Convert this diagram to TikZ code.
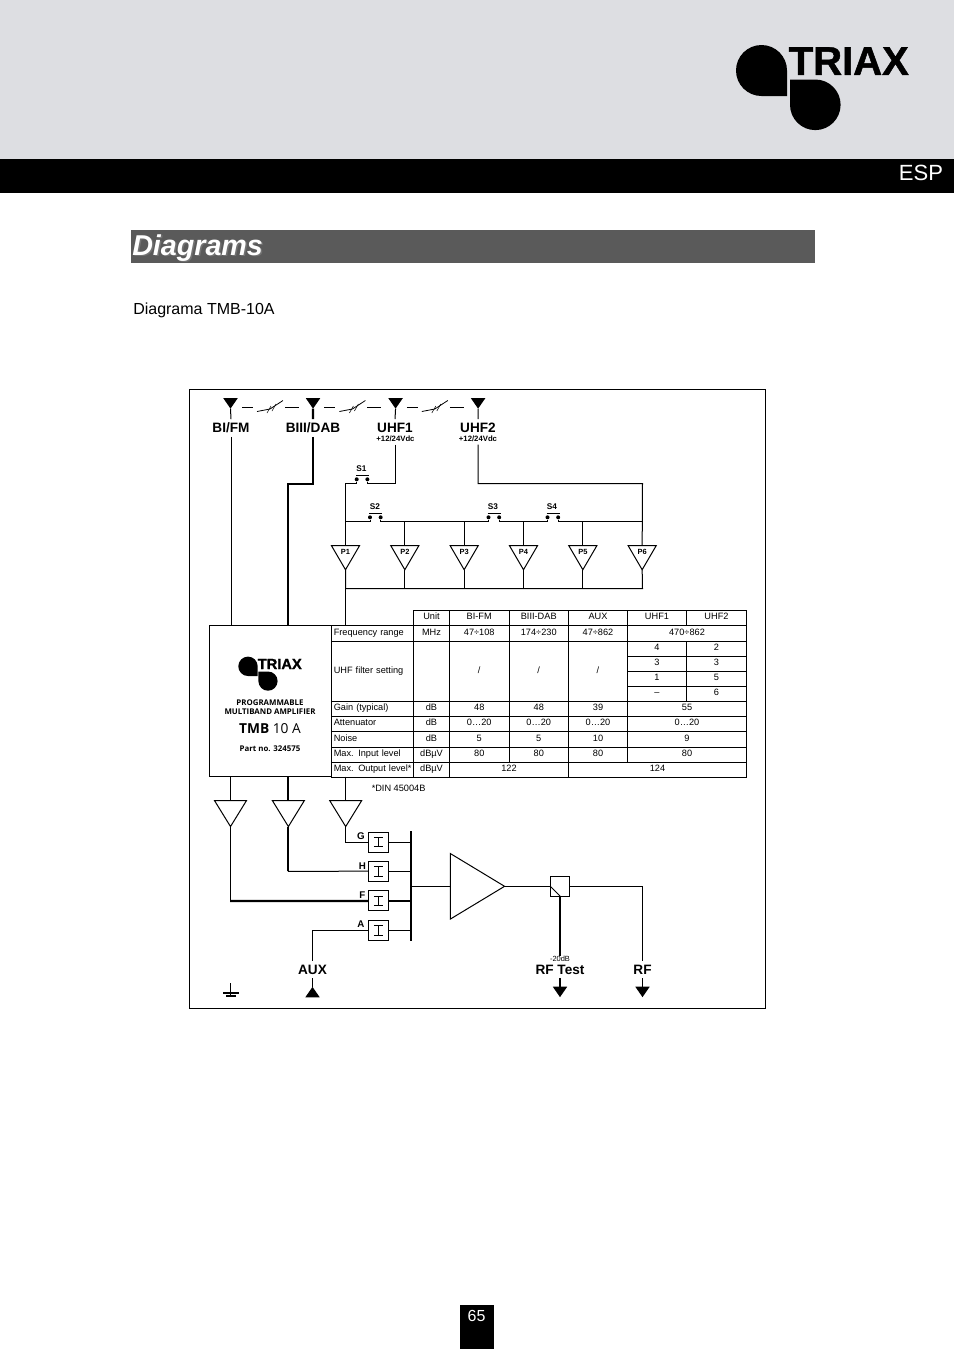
\documentclass[tikz,border=0pt]{standalone}
\usepackage{fontspec}
\setmainfont{Liberation Sans}
\newfontfamily\logofont[FakeBold=1.2]{Liberation Sans Bold}
\newfontfamily\platefont{Open Sans}
\usetikzlibrary{shapes.geometric, arrows, positioning}
\definecolor{topgrey}{RGB}{221,222,226}
\definecolor{titlegrey}{RGB}{90,90,90}
\tikzstyle{band} = [rectangle, draw=none, inner sep=0pt, outer sep=0pt, anchor=north west]
\tikzstyle{wire} = [line width=0.75pt]
\tikzstyle{heavy} = [line width=1.6pt]
\tikzstyle{big} = [inner xsep=0pt, inner ysep=3pt, outer sep=0pt, text height=7.4pt, text depth=0pt, font=\bfseries\fontsize{10.2}{11}\selectfont]
\tikzstyle{supply} = [inner sep=2pt, outer sep=0pt, font=\bfseries\fontsize{5.8}{6}\selectfont]
\tikzstyle{tiny} = [inner sep=0pt, font=\bfseries\fontsize{6.2}{7}\selectfont]
\tikzstyle{letter} = [inner sep=0pt, font=\bfseries\fontsize{7.3}{8}\selectfont]
\tikzstyle{ant} = [isosceles triangle, isosceles triangle stretches, minimum height=7.8pt, minimum width=10.8pt, inner sep=0pt, outer sep=0pt, fill=black, draw=none]
\tikzstyle{pamp} = [isosceles triangle, shape border rotate=-90, isosceles triangle stretches, minimum height=18pt, minimum width=21pt, inner sep=0pt, outer sep=0pt, draw=black, line width=0.75pt, font=\bfseries\fontsize{5.6}{6}\selectfont]
\tikzstyle{oamp} = [isosceles triangle, shape border rotate=-90, isosceles triangle stretches, minimum height=19.5pt, minimum width=24pt, inner sep=0pt, outer sep=0pt, draw=black, line width=0.75pt]
\tikzstyle{filt} = [rectangle, minimum width=15.2pt, minimum height=15pt, inner sep=0pt, outer sep=0pt, draw=black, line width=0.75pt]
\tikzstyle{dot} = [circle, fill=black, minimum size=3pt, inner sep=0pt]
\tikzstyle{cell} = [rectangle, draw=black, line width=0.6pt, inner sep=0pt, outer sep=0pt, anchor=north west, text height=5pt, text depth=2.2pt, font=\fontsize{6.9}{7}\selectfont, align=center]
\tikzstyle{rowname} = [cell, align=left, text width=61.5pt]

\begin{document}
\begin{tikzpicture}[x=0.75pt, y=-0.75pt]
  \useasboundingbox (0,0) rectangle (954,1350);

  \node (TOP) [band, fill=topgrey, minimum width=715.5pt, minimum height=119.25pt] at (0,0) {};
  \node (BAR) [band, fill=black, minimum width=715.5pt, minimum height=25.5pt] at (0,159) {};
  \node (ESP) [text=white, font=\fontsize{16.5}{18}\selectfont, inner sep=0pt] at (921,173) {ESP};
  \node (TIT) [band, fill=titlegrey, minimum width=513pt, minimum height=24.75pt] at (131,230) {};
  \node (SHA) [anchor=west, inner sep=0pt, text=black!55, font=\bfseries\itshape\fontsize{21.5}{24}\selectfont] at (133.5,249.5) {Diagrams};
  \node (HEAD) [anchor=west, inner sep=0pt, text=white, font=\bfseries\itshape\fontsize{21.5}{24}\selectfont] at (132,248) {Diagrams};
  \node (SUB) [anchor=west, inner sep=0pt, font=\fontsize{12}{14}\selectfont] at (133,310) {Diagrama TMB-10A};
  \node (PAGE) [band, fill=black, minimum width=25.5pt, minimum height=33pt] at (460,1305) {};
  \node (NUM) [text=white, inner sep=0pt, font=\fontsize{12}{14}\selectfont] at (476.5,1316) {65};

  % logo
  \fill (787,96) -- (761.5,96) arc (270:0:25.5 and -25.5) -- cycle;
  \fill (790,79.5) -- (815.3,79.5) arc (90:-180:25.3 and -25.3) -- cycle;
  \node (LOGO) [anchor=west, inner sep=0pt, font=\logofont\fontsize{30}{32}\selectfont] at (788.5,61) {TRIAX};

  \node (FRAME) [band, draw=black, line width=0.75pt, minimum width=432pt, minimum height=464.25pt] at (189.5,389.5) {};

  % inputs
  \node (ANTA) [ant, shape border rotate=-90] at (230.5,402) {};
  \node (ANTB) [ant, shape border rotate=-90, right of=ANTA, node distance=61.9pt] {};
  \node (ANTC) [ant, shape border rotate=-90, right of=ANTB, node distance=61.9pt] {};
  \node (ANTD) [ant, shape border rotate=-90, right of=ANTC, node distance=61.9pt] {};
  \foreach \ox in {0,82.4,164.8} {
    \draw [wire] (242+\ox,407.3) -- (253+\ox,407.3);
    \draw [wire] (285+\ox,407.3) -- (299+\ox,407.3);
    \draw [line width=0.6pt] (257+\ox,411.5) -- (270+\ox,409) -- (283+\ox,400.5);
    \draw [line width=0.4pt] (267+\ox,413) -- (271+\ox,406);
    \draw [line width=0.4pt] (272+\ox,411) -- (276+\ox,404);
  }
  \node (BIFM) [big] at (231,428) {BI/FM};
  \node (BIII) [big] at (313,428) {BIII/DAB};
  \node (UHFA) [big] at (395,428) {UHF1};
  \node (UHFB) [big] at (478,428) {UHF2};
  \node (VCA) [supply] at (395.5,439) {+12/24Vdc};
  \node (VCB) [supply] at (478,439) {+12/24Vdc};
  \draw [wire] (ANTA.apex) -- (BIFM.north);
  \draw [heavy] (ANTB.apex) -- (BIII.north);
  \draw [wire] (ANTC.apex) -- (UHFA.north);
  \draw [wire] (ANTD.apex) -- (UHFB.north);

  % switches
  \node (SAL) [dot] at (356.7,479.3) {};
  \node (SAR) [dot, right of=SAL, node distance=8pt] {};
  \node (SBL) [dot] at (370,517.3) {};
  \node (SBR) [dot, right of=SBL, node distance=8pt] {};
  \node (SCL) [dot] at (488.5,517.3) {};
  \node (SCR) [dot, right of=SCL, node distance=8pt] {};
  \node (SDL) [dot] at (547.5,517.3) {};
  \node (SDR) [dot, right of=SDL, node distance=8pt] {};
  \node (SA) [tiny] at (361.5,468.5) {S1};
  \node (SB) [tiny] at (375,506.5) {S2};
  \node (SC) [tiny] at (493,506.5) {S3};
  \node (SD) [tiny] at (552,506.5) {S4};
  \draw [wire] (356,475.3) -- (369,475.3);
  \draw [wire] (369,513) -- (382,513);
  \draw [wire] (487.5,513) -- (500.5,513);
  \draw [wire] (546.5,513) -- (559.5,513);

  % preamps
  \node (PA) [pamp] at (345.5,552) {P1};
  \node (PB) [pamp, right of=PA, node distance=44.5pt] {P2};
  \node (PC) [pamp, right of=PB, node distance=44.5pt] {P3};
  \node (PD) [pamp, right of=PC, node distance=44.5pt] {P4};
  \node (PE) [pamp, right of=PD, node distance=44.5pt] {P5};
  \node (PF) [pamp, right of=PE, node distance=44.5pt] {P6};

  \draw [wire] (VCA.south) -- (395.5,483.5) -| (SAR);
  \draw [wire] (SAL) |- (345.5,483.5) -- (PA.north);
  \draw [wire] (VCB.south) |- (642.5,483.5) -- (PF.north);
  \draw [wire] (345.5,521.5) -| (SBL);
  \draw [wire] (SBR) |- (488.5,521.5) -- (SCL);
  \draw [wire] (SCR) |- (547.5,521.5) -- (SDL);
  \draw [wire] (SDR) |- (642.5,521.5);
  \draw [wire] (PB.north |- 0,521.5) -- (PB.north);
  \draw [wire] (PC.north |- 0,521.5) -- (PC.north);
  \draw [wire] (PD.north |- 0,521.5) -- (PD.north);
  \draw [wire] (PE.north |- 0,521.5) -- (PE.north);
  \draw [wire] (PA.apex) |- (642.5,588.5) -- (PF.apex);
  \draw [wire] (PB.apex) -- (PB.apex |- 0,588.5);
  \draw [wire] (PC.apex) -- (PC.apex |- 0,588.5);
  \draw [wire] (PD.apex) -- (PD.apex |- 0,588.5);
  \draw [wire] (PE.apex) -- (PE.apex |- 0,588.5);

  % plate
  \node (PLATE) [band, draw=black, line width=0.75pt, minimum width=91.5pt, minimum height=113.25pt] at (209.5,625.5) {};
  \fill (257.7,676) -- (248,676) arc (270:0:9.7 and -9.7) -- cycle;
  \fill (258.3,671.5) -- (268,671.5) arc (90:-180:9.6 and -9.6) -- cycle;
  \node (LOGB) [anchor=west, inner sep=0pt, font=\logofont\fontsize{11}{12}\selectfont] at (257.5,664) {TRIAX};
  \node (LA) [inner sep=0pt, font=\platefont\bfseries\fontsize{5.9}{6}\selectfont] at (270,702.5) {PROGRAMMABLE};
  \node (LB) [inner sep=0pt, font=\platefont\bfseries\fontsize{5.9}{6}\selectfont] at (270,711.5) {MULTIBAND AMPLIFIER};
  \node (LC) [inner sep=0pt, font=\platefont\fontsize{10.3}{12}\selectfont] at (270,729) {\textbf{TMB} 10 A};
  \node (LD) [inner sep=0pt, font=\platefont\bfseries\fontsize{5.9}{7}\selectfont] at (270,748.5) {Part no. 324575};

  % table
  \foreach \nm/\xx/\yy/\ww/\hh/\tt in {
    HA/413.5/610.5/36/15/Unit, HB/449.5/610.5/59.5/15/BI-FM, HC/509/610.5/59.5/15/BIII-DAB,
    HD/568.5/610.5/59/15/AUX, HE/627.5/610.5/59/15/UHF1, HF/686.5/610.5/60/15/UHF2,
    FA/413.5/625.5/36/15.5/MHz, FB/449.5/625.5/59.5/15.5/47÷108, FC/509/625.5/59.5/15.5/174÷230,
    FD/568.5/625.5/59/15.5/47÷862, FE/627.5/625.5/119/15.5/470÷862,
    UA/413.5/641/36/60.5/{}, UB/449.5/641/59.5/60.5/{/}, UC/509/641/59.5/60.5/{/}, UD/568.5/641/59/60.5/{/},
    UE/627.5/641/59/15/4, UF/686.5/641/60/15/2, UG/627.5/656/59/15.3/3, UH/686.5/656/60/15.3/3,
    UI/627.5/671.3/59/15/1, UJ/686.5/671.3/60/15/5, UK/627.5/686.3/59/15.2/--, UL/686.5/686.3/60/15.2/6,
    GA/413.5/701.5/36/14.7/dB, GB/449.5/701.5/59.5/14.7/48, GC/509/701.5/59.5/14.7/48, GD/568.5/701.5/59/14.7/39, GE/627.5/701.5/119/14.7/55,
    TA/413.5/716.2/36/15.5/dB, TB/449.5/716.2/59.5/15.5/0…20, TC/509/716.2/59.5/15.5/0…20, TD/568.5/716.2/59/15.5/0…20, TE/627.5/716.2/119/15.5/0…20,
    NA/413.5/731.7/36/15.3/dB, NB/449.5/731.7/59.5/15.3/5, NC/509/731.7/59.5/15.3/5, ND/568.5/731.7/59/15.3/10, NE/627.5/731.7/119/15.3/9,
    IA/413.5/747/36/15.3/dBµV, IB/449.5/747/59.5/15.3/80, IC/509/747/59.5/15.3/80, ID/568.5/747/59/15.3/80, IE/627.5/747/119/15.3/80,
    OA/413.5/762.3/36/15.2/dBµV, OB/449.5/762.3/119/15.2/122, OC/568.5/762.3/178/15.2/124}
    \node (\nm) [cell, minimum width=0.75*\ww pt, minimum height=0.75*\hh pt] at (\xx,\yy) {\tt};
  \foreach \nm/\yy/\hh/\tt in {
    RA/625.5/15.5/Frequency range, RB/641/60.5/UHF filter setting, RC/701.5/14.7/Gain (typical),
    RD/716.2/15.5/Attenuator, RE/731.7/15.3/Noise, RF/747/15.3/Max. Input level, RG/762.3/15.2/Max. Output level*}
    \node (\nm) [rowname, minimum height=0.75*\hh pt] at (331.5,\yy) {\hspace*{1.7pt}\tt};
  \node (DIN) [inner sep=0pt, anchor=west, font=\fontsize{6.9}{7}\selectfont] at (371.5,788.5) {*DIN 45004B};

  % output side
  \node (AMA) [oamp] at (230.5,809.5) {};
  \node (AMB) [oamp, right of=AMA, node distance=43.4pt] {};
  \node (AMC) [oamp, right of=AMB, node distance=43pt] {};
  \draw [wire] (BIFM.south) -- (BIFM.south |- PLATE.north);
  \draw [wire] (AMA.north |- PLATE.south) -- (AMA.north);
  \draw [heavy] (BIII.south) |- (288.3,484) -- (288.3,625.5);
  \draw [heavy] (AMB.north |- PLATE.south) -- (AMB.north);
  \draw [wire] (PA.apex) -- (345.5,625.5);
  \draw [wire] (AMC.north |- PLATE.south) -- (AMC.north);

  \node (FG) [filt] at (378.5,842) {};
  \node (FH) [filt, below of=FG, node distance=21.9pt] {};
  \node (FF) [filt, below of=FH, node distance=22.3pt] {};
  \node (FX) [filt, below of=FF, node distance=22pt] {};
  \foreach \fl in {FG,FH,FF,FX} {
    \draw [line width=0.6pt] ([shift={(-4.7,-4.7)}]\fl.center) -- ++(9.4,0);
    \draw [line width=0.6pt] ([shift={(-4.7,4.7)}]\fl.center) -- ++(9.4,0);
    \draw [line width=0.6pt] ([shift={(0,-4.7)}]\fl.center) -- ++(0,9.4);
  }
  \node (LG) [letter] at (361,835.7) {G};
  \node (LH) [letter] at (362.3,866) {H};
  \node (LF) [letter] at (362.3,895.3) {F};
  \node (LX) [letter] at (361,924.3) {A};

  \coordinate (BUST) at (411,831);
  \coordinate (BUSB) at (411,941);
  \draw [line width=1.6pt] (BUST) -- (BUSB);
  \draw [wire] (AMC.apex) |- (FG.west);
  \draw [heavy] (AMB.apex) |- (288.3,871.3);
  \draw [wire] (288.3,871.3) -- (FH.west);
  \draw [wire] (AMA.apex) -- (230.5,901);
  \draw [heavy] (230,901) -- (FF.west);
  \draw [wire] (FG.east) -- (FG.east -| BUST);
  \draw [wire] (FH.east) -- (FH.east -| BUST);
  \draw [heavy] (FF.east) -- (FF.east -| BUST);
  \draw [wire] (FX.east) -- (FX.east -| BUST);

  \node (AUX) [big] at (312.5,969.5) {AUX};
  \node (AUXT) [ant, shape border rotate=90] at (312.5,993.5) {};
  \draw [wire] (FX.west) -| (AUX.north);
  \draw [wire] (AUX.south) -- (AUXT.apex);

  % main amplifier
  \node (MAIN) [isosceles triangle, isosceles triangle stretches, minimum height=40.7pt, minimum width=49.2pt, inner sep=0pt, outer sep=0pt, draw=black, line width=0.75pt] at (468.8,886.3) {};
  \node (TEST) [filt, minimum width=14.2pt] at (559.8,886.3) {};
  \draw [wire] (411,886.3) -- (450.3,886.3);
  \draw [wire] (MAIN.apex) -- (TEST.west);
  \draw [wire] (TEST.west) -- (560,896);
  \node (DBL) [inner sep=0pt, font=\fontsize{5.6}{6}\selectfont] at (560,958.5) {-20dB};
  \node (RFT) [big] at (560,969.5) {RF Test};
  \node (RFO) [big] at (642.5,969.5) {RF};
  \node (TIPA) [ant, shape border rotate=-90] at (560,990.5) {};
  \node (TIPB) [ant, shape border rotate=-90] at (642.5,990.5) {};
  \draw [heavy] (560,896) -- (DBL.north);
  \draw [heavy] (RFT.south) -- (TIPA.north);
  \draw [wire] (TEST.east) -| (RFO.north);
  \draw [wire] (RFO.south) -- (TIPB.north);

  % earth
  \coordinate (GND) at (230.5,983);
  \draw [line width=1.2pt] (GND) -- (230.5,997);
  \draw [line width=1.5pt] (223,992.5) -- (239,992.5);
  \draw [line width=1.5pt] (226,995.5) -- (235.5,995.5);
\end{tikzpicture}
\end{document}
